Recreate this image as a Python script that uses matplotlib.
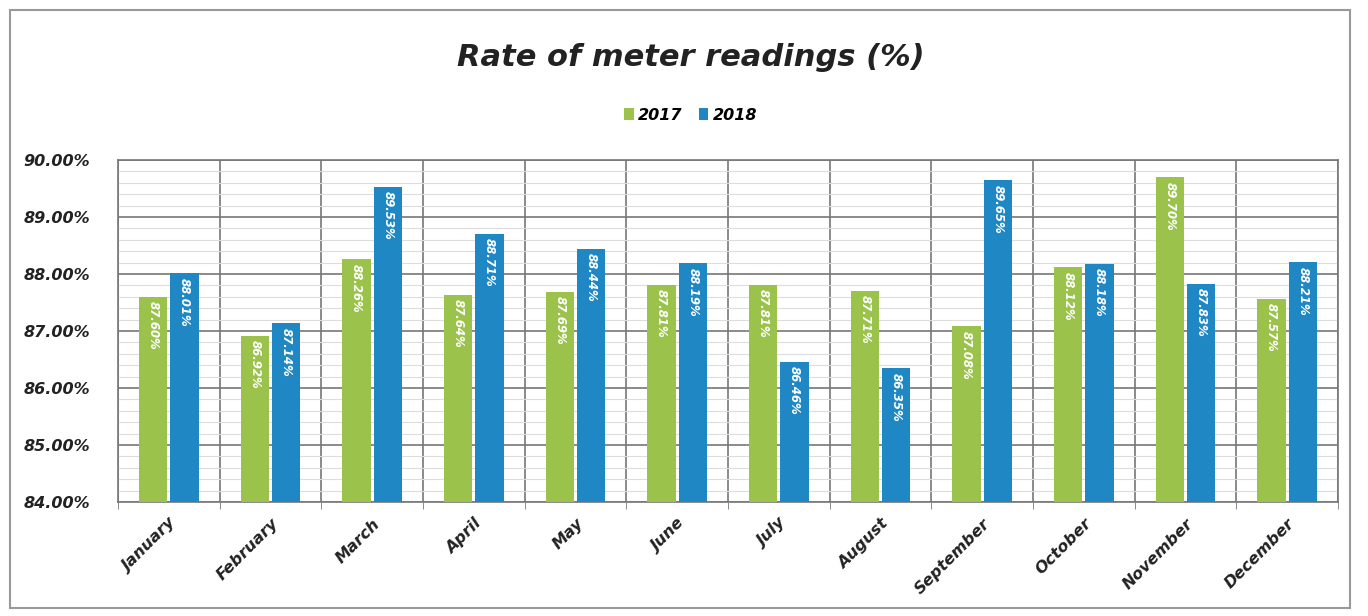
import matplotlib.pyplot as plt
import numpy as np
from matplotlib.patches import Rectangle
from matplotlib.ticker import MultipleLocator, FuncFormatter

months = ["January", "February", "March", "April", "May", "June", "July",
          "August", "September", "October", "November", "December"]
rate_2017 = [87.60, 86.92, 88.26, 87.64, 87.69, 87.81, 87.81, 87.71, 87.08, 88.12, 89.70, 87.57]
rate_2018 = [88.01, 87.14, 89.53, 88.71, 88.44, 88.19, 86.46, 86.35, 89.65, 88.18, 87.83, 88.21]

green = "#9BC34B"
blue = "#1F88C4"

fig = plt.figure(figsize=(13.68, 6.16), dpi=100)
ax = fig.add_axes([118 / 1368, 1 - 502 / 616, 1220 / 1368, 342 / 616])

x = np.arange(len(months))
w = 0.28
b1 = ax.bar(x - w / 2 - 0.015, rate_2017, width=w, color=green, label="2017", zorder=3)
b2 = ax.bar(x + w / 2 + 0.015, rate_2018, width=w, color=blue, label="2018", zorder=3)

for bars, vals in ((b1, rate_2017), (b2, rate_2018)):
    for rect, v in zip(bars, vals):
        ax.text(rect.get_x() + rect.get_width() / 2, v - 0.08, "{:.2f}%".format(v),
                rotation=-90, ha="center", va="top", color="white",
                fontsize=8.5, fontstyle="italic", fontweight="bold", zorder=4)

ax.set_ylim(84, 90)
ax.set_xlim(-0.5, len(months) - 0.5)
ax.yaxis.set_major_locator(MultipleLocator(1))
ax.yaxis.set_minor_locator(MultipleLocator(0.2))
ax.yaxis.set_major_formatter(FuncFormatter(lambda v, p: "{:.2f}%".format(v)))
ax.set_xticks(x)
ax.set_xticks(np.arange(-0.5, len(months), 1), minor=True)
ax.set_xticklabels(months, rotation=45, ha="right", rotation_mode="anchor",
                   fontsize=11.5, fontstyle="italic", fontweight="bold", color="#222222")
for lab in ax.get_yticklabels():
    lab.set_fontsize(11.5)
    lab.set_fontstyle("italic")
    lab.set_fontweight("bold")
    lab.set_color("#222222")

ax.grid(axis="y", which="major", color="#777777", linewidth=1.2, zorder=0)
ax.grid(axis="y", which="minor", color="#dddddd", linewidth=0.8, zorder=0)
ax.grid(axis="x", which="minor", color="#777777", linewidth=1.2, zorder=0)
ax.tick_params(axis="x", which="major", length=0, pad=10)
ax.tick_params(axis="x", which="minor", length=5, color="#777777")
ax.tick_params(axis="y", which="both", length=0, pad=20)
for s in ax.spines.values():
    s.set_color("#777777")
    s.set_linewidth(1.2)

fig.text(0.505, 1 - 58 / 616, "Rate of meter readings (%)", ha="center", va="center",
         fontsize=22, fontstyle="italic", fontweight="bold", color="#222222")
fig.legend(handles=[b1, b2], loc="center", bbox_to_anchor=(0.505, 1 - 115 / 616), ncol=2,
           frameon=False, prop={"size": 11.5, "style": "italic", "weight": "bold"},
           handlelength=0.6, handleheight=0.8, columnspacing=1.0, handletextpad=0.3)

fig.patches.append(Rectangle((10 / 1368, 8 / 616), 1340 / 1368, 598 / 616, transform=fig.transFigure,
                             fill=False, edgecolor="#999999", linewidth=1.5))

fig.savefig("out.png", dpi=100)
